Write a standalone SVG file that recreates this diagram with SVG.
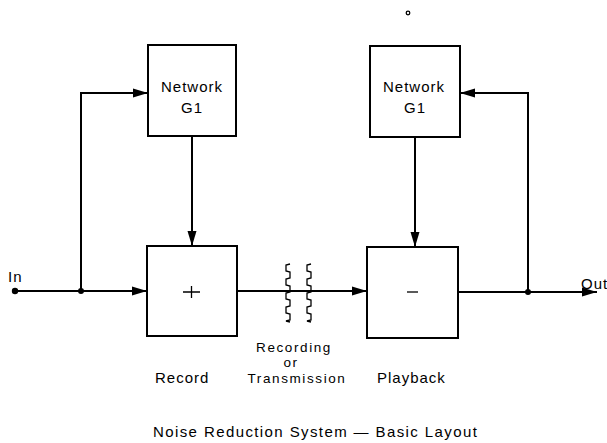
<svg xmlns="http://www.w3.org/2000/svg" width="607" height="443" viewBox="0 0 607 443">
  <defs>
    <style>
      .box { fill: #fff; stroke: #000; stroke-width: 2; }
      .wire { fill: none; stroke: #000; stroke-width: 2; }
      .thin { fill: none; stroke: #000; stroke-width: 1.3; }
      .lbl { font-family: "Liberation Sans", Arial, sans-serif; font-size: 15px; fill: #000; letter-spacing: 1px; }
      .medium { font-size: 13.5px; letter-spacing: 1.6px; }
      .mid { text-anchor: middle; }
    </style>
    <marker id="arrow" markerUnits="userSpaceOnUse" markerWidth="16" markerHeight="10" refX="15" refY="5" orient="auto">
      <path d="M0,0.5 L15,5 L0,9.5 Z" fill="#000"/>
    </marker>
  </defs>

  <rect width="607" height="443" fill="#fff"/>

  <!-- connectors -->
  <g id="connectors">
    <path class="wire" d="M15,291 H147" marker-end="url(#arrow)"/>
    <path class="wire" d="M81,291 V93 H148" marker-end="url(#arrow)"/>
    <path class="wire" d="M192,136 V246" marker-end="url(#arrow)"/>
    <path class="wire" d="M237,291 H367" marker-end="url(#arrow)"/>
    <path class="wire" d="M415,137 V247" marker-end="url(#arrow)"/>
    <path class="wire" d="M458,292 H597" marker-end="url(#arrow)"/>
    <path class="wire" d="M528,292 V93 H460" marker-end="url(#arrow)"/>
    <circle cx="15" cy="291" r="3.2" fill="#000"/>
    <circle cx="81" cy="291" r="3" fill="#000"/>
    <circle cx="528" cy="292" r="3" fill="#000"/>
    <!-- recording / transmission medium break -->
    <path class="thin" d="M290,264 L286,265 V271 L290,272 V278 L286,279 V285 L290,286 V292 L286,293 V299 L290,300 V306 L286,307 V313 L290,314 V320 L286,321 L290,322"/>
    <path class="thin" d="M311,264 L307,265 V271 L311,272 V278 L307,279 V285 L311,286 V292 L307,293 V299 L311,300 V306 L307,307 V313 L311,314 V320 L307,321 L311,322"/>
  </g>

  <!-- encoder network -->
  <g id="network-g1-record">
    <rect class="box" x="148" y="45" width="88" height="91"/>
    <text class="lbl mid" x="192" y="92">Network</text>
    <text class="lbl mid" x="192" y="113">G1</text>
  </g>

  <!-- adder -->
  <g id="adder">
    <rect class="box" x="147" y="246" width="90" height="90"/>
    <path class="thin" d="M183,292 H200 M191.5,286 V298"/>
  </g>

  <!-- decoder network -->
  <g id="network-g1-playback">
    <rect class="box" x="370" y="46" width="90" height="91"/>
    <text class="lbl mid" x="414" y="92">Network</text>
    <text class="lbl mid" x="415" y="113">G1</text>
  </g>

  <!-- subtractor -->
  <g id="subtractor">
    <rect class="box" x="367" y="247" width="91" height="91"/>
    <path class="thin" d="M407,292 H418"/>
  </g>

  <!-- labels -->
  <g id="labels">
    <text class="lbl" x="8" y="282">In</text>
    <text class="lbl" x="581" y="289">Out</text>
    <text class="lbl" x="155" y="383">Record</text>
    <text class="lbl medium mid" x="294" y="351.5">Recording</text>
    <text class="lbl medium mid" x="291" y="367">or</text>
    <text class="lbl medium mid" x="297" y="382.5">Transmission</text>
    <text class="lbl" x="377" y="383">Playback</text>
    <text class="lbl" x="153" y="437" style="letter-spacing:1.4px">Noise  Reduction System — Basic Layout</text>
  </g>

  <circle cx="408" cy="13" r="1.8" fill="none" stroke="#000" stroke-width="1.3"/>
</svg>
